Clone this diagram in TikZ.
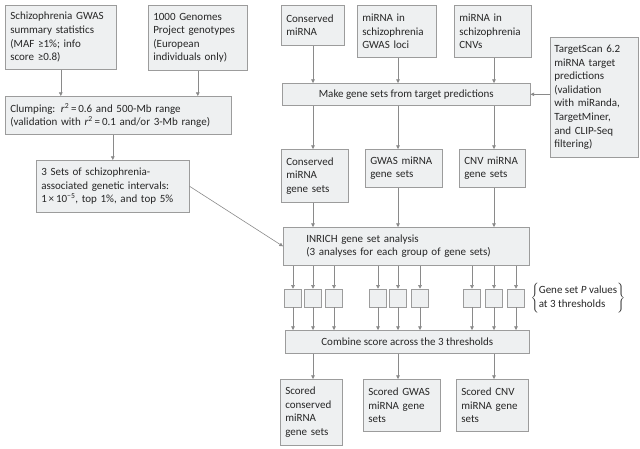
\documentclass[tikz,border=0pt]{standalone}
\usepackage{fontspec}
\setmainfont{Carlito}
\usetikzlibrary{arrows.meta, positioning, calc}
\definecolor{boxFill}{HTML}{EEF0F1}
\definecolor{boxLine}{HTML}{9C9C9C}
\definecolor{arrowGray}{HTML}{8A8A8A}
\definecolor{textDark}{HTML}{262626}

\begin{document}
\begin{tikzpicture}[
        x=1pt, y=-1pt,
        box/.style={rectangle, anchor=north west, inner xsep=5pt, inner ysep=2pt,
          font=\fontsize{11}{13.6}\selectfont, align=left, text=textDark,
          fill=boxFill, draw=boxLine, line width=0.6pt},
        sq/.style={rectangle, minimum width=17pt, minimum height=18pt,
          inner sep=0pt, fill=boxFill, draw=boxLine, line width=0.6pt},
        arr/.style={draw=arrowGray, line width=0.6pt,
          -{Triangle[width=3.6pt,length=3.6pt]}}
      ]
        \useasboundingbox (0,0) rectangle (640,448);
        % left branch
        \node[box, minimum width=111pt, minimum height=64pt, text width=101pt]
          (gwas) at (5,5) {Schizophrenia GWAS\\summary statistics\\(MAF ≥1\%; info\\score ≥0.8)};
        \node[box, minimum width=99pt, minimum height=65pt, text width=89pt]
          (kg) at (148,5) {1000 Genomes\\Project genotypes\\(European\\individuals only)};
        \node[box, minimum width=226pt, minimum height=38pt, text width=216pt]
          (clump) at (5,96) {Clumping: \textit{r}\textsuperscript{2}\,=\,0.6 and 500-Mb range\\(validation with \textit{r}\textsuperscript{2}\,=\,0.1 and/or 3-Mb range)};
        \node[box, minimum width=153pt, minimum height=52pt, text width=143pt]
          (sets) at (36,160) {3 Sets of schizophrenia-\\associated genetic intervals:\\1\,×\,10\textsuperscript{\textminus 5}, top 1\%, and top 5\%};
        % miRNA sources
        \node[box, minimum width=63pt, minimum height=40pt, text width=53pt]
          (cons) at (281,5) {Conserved\\miRNA};
        \node[box, minimum width=79pt, minimum height=52pt, text width=69pt]
          (mgwas) at (357,5) {miRNA in\\schizophrenia\\GWAS loci};
        \node[box, minimum width=77pt, minimum height=52pt, text width=67pt]
          (mcnv) at (454,5) {miRNA in\\schizophrenia\\CNVs};
        \node[box, minimum width=88pt, minimum height=120pt, text width=80pt, inner xsep=4pt]
          (ts) at (550,37) {TargetScan 6.2\\miRNA target\\predictions\\(validation\\with miRanda,\\TargetMiner,\\and CLIP-Seq\\filtering)};
        \node[box, minimum width=248pt, minimum height=22pt, align=center]
          (make) at (282,83) {Make gene sets from target predictions};
        % gene sets
        \node[box, minimum width=67pt, minimum height=53pt, text width=57pt]
          (gcons) at (281,149) {Conserved\\miRNA\\gene sets};
        \node[box, minimum width=77pt, minimum height=38pt, text width=67pt]
          (ggwas) at (365,149) {GWAS miRNA\\gene sets};
        \node[box, minimum width=66pt, minimum height=38pt, text width=56pt]
          (gcnv) at (459,149) {CNV miRNA\\gene sets};
        \node[box, minimum width=246pt, minimum height=38pt, text width=200pt]
          (inrich) at (283,227) {INRICH gene set analysis\\(3 analyses for each group of gene sets)};
        % P values at 3 thresholds
        \foreach \cx [count=\i] in {293,313,334,378,398,420,472,494,516}
          \node[sq] (p\i) at (\cx,298) {};
        \node[font=\fontsize{11}{13.6}\selectfont, text=textDark, inner sep=0pt]
          (pval) at (578,298) {$\left\{\begin{tabular}{@{}l@{}}Gene set \textit{P} values\\at 3 thresholds\end{tabular}\right\}$};
        \node[box, minimum width=244pt, minimum height=23pt, align=center]
          (combine) at (285,330) {Combine score across the 3 thresholds};
        % scored sets
        \node[box, minimum width=62pt, minimum height=66pt, text width=52pt]
          (sc1) at (280,379) {Scored\\conserved\\miRNA\\gene sets};
        \node[box, minimum width=77pt, minimum height=52pt, text width=67pt]
          (sc2) at (363,379) {Scored GWAS\\miRNA gene\\sets};
        \node[box, minimum width=72pt, minimum height=52pt, text width=62pt]
          (sc3) at (456,379) {Scored CNV\\miRNA gene\\sets};

        % connectors
        \draw[arr] (gwas.south) -- (gwas.south |- clump.north);
        \draw[arr] (kg.south) -- (kg.south |- clump.north);
        \draw[arr] (sets.north |- clump.south) -- (sets.north);
        \draw[arr] (sets.east) -- (inrich.west);
        \draw[arr] (cons.south -| p2) -- (make.north -| p2);
        \draw[arr] (mgwas.south -| p5) -- (make.north -| p5);
        \draw[arr] (mcnv.south -| p8) -- (make.north -| p8);
        \draw[arr] (ts.west |- make.east) -- (make.east);
        \draw[arr] (make.south -| p2) -- (gcons.north -| p2);
        \draw[arr] (make.south -| p5) -- (ggwas.north -| p5);
        \draw[arr] (make.south -| p8) -- (gcnv.north -| p8);
        \draw[arr] (gcons.south -| p2) -- (inrich.north -| p2);
        \draw[arr] (ggwas.south -| p5) -- (inrich.north -| p5);
        \draw[arr] (gcnv.south -| p8) -- (inrich.north -| p8);
        \foreach \i in {1,...,9} {
          \draw[arr] (inrich.south -| p\i) -- (p\i.north);
          \draw[arr] (p\i.south) -- (combine.north -| p\i);
        }
        \draw[arr] (combine.south -| p2) -- (sc1.north -| p2);
        \draw[arr] (combine.south -| p5) -- (sc2.north -| p5);
        \draw[arr] (combine.south -| p8) -- (sc3.north -| p8);
      \end{tikzpicture}
\end{document}
